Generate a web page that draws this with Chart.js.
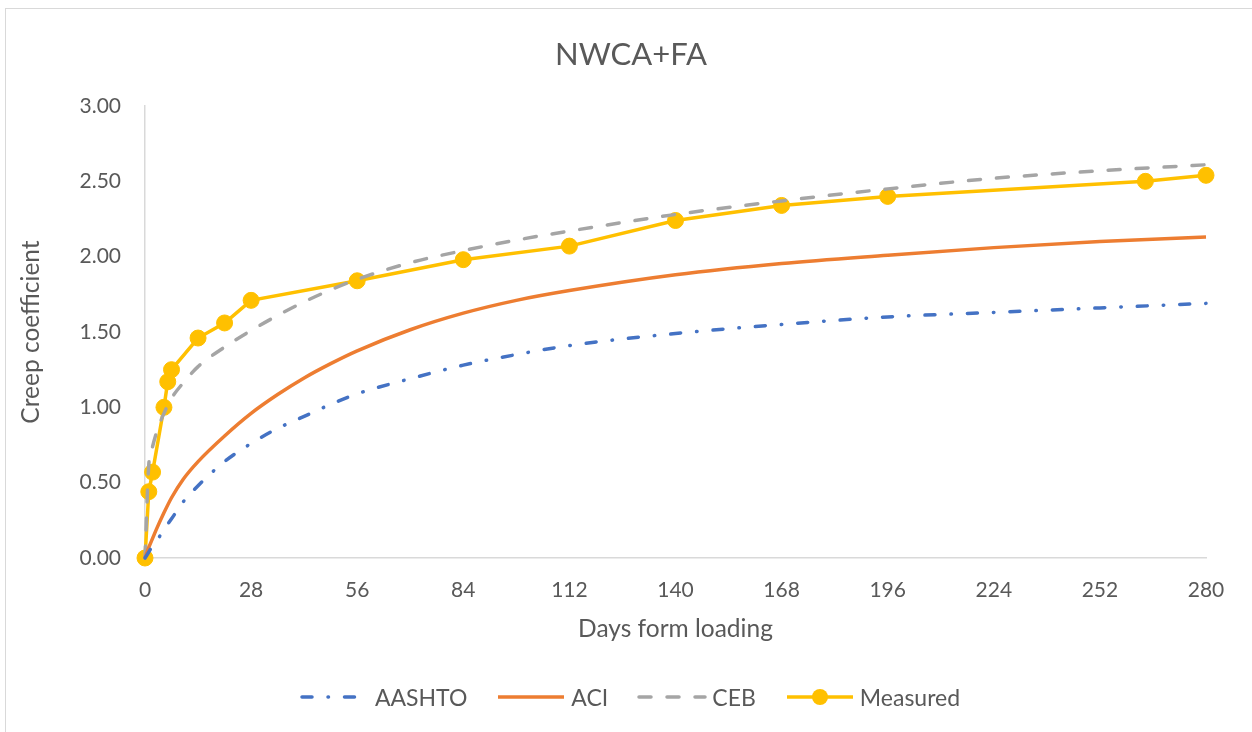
<!DOCTYPE html>
<html>
<head>
<meta charset="utf-8">
<script src="https://cdn.jsdelivr.net/npm/chart.js@4"></script>
<style>
  html, body { margin: 0; padding: 0; background: #fff; }
  #wrap { position: relative; width: 1252px; height: 732px; overflow: hidden; }
  #frame { position: absolute; left: 5px; top: 8px; width: 1300px; height: 800px;
           border-left: 1px solid #d9d9d9; border-top: 1px solid #d9d9d9; }
  #chart { position: absolute; left: 0; top: 0; }
  #title { position: absolute; left: 0; top: 35px; width: 1262px; text-align: center;
           font-family: Lato, sans-serif; font-size: 31px; line-height: 36px; color: #595959; }
  #legend { position: absolute; left: 0; top: 683px; width: 1260px; display: flex;
            justify-content: center; align-items: center; gap: 29px;
            font-family: Lato, sans-serif; font-size: 23px; color: #595959; }
  .item { display: flex; align-items: center; gap: 5px; }
  .item svg { display: block; }
</style>
</head>
<body>
<div id="wrap">
  <div id="frame"></div>
  <canvas id="chart" width="1252" height="732"></canvas>
  <div id="title"></div>
  <div id="legend"></div>
</div>
<script>
// 📈 Creep coefficient - NWCA+FA

const titleText = 'NWCA+FA';
const xTitle = 'Days form loading';
const yTitle = 'Creep coefficient';

// x ticks: 0..280 step 28, y ticks: 0..3 step 0.5
const xTicks = [0, 28, 56, 84, 112, 140, 168, 196, 224, 252, 280];
const yTicks = [0, 0.5, 1, 1.5, 2, 2.5, 3];

// model curves
const modelDays = [0, 1, 2, 3, 5, 7, 10, 14, 21, 28, 35, 42, 49, 56, 70, 84, 98, 112, 140, 168, 196, 224, 252, 280];
const aashtoVals = [0, 0.04, 0.08, 0.11, 0.19, 0.26, 0.37, 0.48, 0.64, 0.76, 0.86, 0.94, 1.02, 1.09, 1.19, 1.28, 1.35, 1.41, 1.49, 1.55, 1.60, 1.63, 1.66, 1.69];
const aciVals = [0, 0.07, 0.13, 0.19, 0.30, 0.40, 0.52, 0.64, 0.81, 0.96, 1.085, 1.195, 1.29, 1.375, 1.515, 1.625, 1.71, 1.775, 1.88, 1.955, 2.01, 2.06, 2.10, 2.13];
const cebVals = [0, 0.62, 0.74, 0.83, 0.96, 1.06, 1.16, 1.27, 1.40, 1.51, 1.61, 1.70, 1.78, 1.85, 1.96, 2.04, 2.11, 2.17, 2.28, 2.37, 2.45, 2.52, 2.57, 2.61];

// measured
const measuredDays = [0, 1, 2, 5, 6, 7, 14, 21, 28, 56, 84, 112, 140, 168, 196, 264, 280];
const measuredVals = [0, 0.44, 0.57, 1.00, 1.17, 1.25, 1.46, 1.56, 1.71, 1.84, 1.98, 2.07, 2.24, 2.34, 2.40, 2.50, 2.54];

const textColor = '#595959';
const fontFamily = 'Lato, sans-serif';

function toPoints(xs, ys) {
  return xs.map((x, i) => ({ x: x, y: ys[i] }));
}

const series = [
  { label: 'AASHTO', days: modelDays, vals: aashtoVals, color: '#4472C4', dash: [10, 16, 0.5, 16], cap: 'round', marker: false },
  { label: 'ACI', days: modelDays, vals: aciVals, color: '#ED7D31', dash: [], cap: 'butt', marker: false },
  { label: 'CEB', days: modelDays, vals: cebVals, color: '#A5A5A5', dash: [12, 16], cap: 'round', marker: false },
  { label: 'Measured', days: measuredDays, vals: measuredVals, color: '#FFC000', dash: [], cap: 'butt', marker: true }
];

const datasets = series.map(s => ({
  label: s.label,
  data: toPoints(s.days, s.vals),
  borderColor: s.color,
  backgroundColor: s.color,
  borderWidth: 3.5,
  borderDash: s.dash,
  borderCapStyle: s.cap,
  cubicInterpolationMode: s.marker ? 'default' : 'monotone',
  tension: 0,
  pointRadius: s.marker ? 8 : 0,
  pointHoverRadius: s.marker ? 8 : 0,
  pointBackgroundColor: s.color,
  pointBorderColor: s.color,
  pointBorderWidth: 1,
  showLine: true,
  clip: false
}));

document.getElementById('title').textContent = titleText;

new Chart(document.getElementById('chart').getContext('2d'), {
  type: 'scatter',
  data: { datasets: datasets },
  options: {
    responsive: false,
    animation: false,
    layout: { padding: { left: 16.3, right: 46, top: 106, bottom: 88.3 } },
    plugins: {
      legend: { display: false },
      tooltip: { enabled: false },
      title: { display: false }
    },
    scales: {
      x: {
        type: 'linear',
        min: xTicks[0],
        max: xTicks[xTicks.length - 1],
        afterBuildTicks: (scale) => { scale.ticks = xTicks.map(v => ({ value: v })); },
        afterFit: (scale) => { scale.height = 85.7; },
        ticks: { color: textColor, font: { family: fontFamily, size: 21 }, padding: 19.4, maxRotation: 0 },
        grid: { display: false, drawTicks: false },
        border: { display: true, color: '#d9d9d9', width: 1.5 },
        title: {
          display: true, text: xTitle, color: textColor,
          font: { family: fontFamily, size: 24.5 }, padding: 0
        }
      },
      y: {
        min: yTicks[0],
        max: yTicks[yTicks.length - 1],
        afterBuildTicks: (scale) => { scale.ticks = yTicks.map(v => ({ value: v })); },
        afterFit: (scale) => { scale.width = 128.7; },
        ticks: { color: textColor, font: { family: fontFamily, size: 21 }, padding: 24,
                 callback: (v) => Number(v).toFixed(2) },
        grid: { display: false, drawTicks: false },
        border: { display: true, color: '#d9d9d9', width: 1.5 },
        title: {
          display: true, text: yTitle, color: textColor,
          font: { family: fontFamily, size: 24.5 }, padding: 0
        }
      }
    }
  }
});

// legend (HTML, line samples as svg)
const legend = document.getElementById('legend');
series.forEach(s => {
  const item = document.createElement('div');
  item.className = 'item';
  const dashAttr = s.dash.length ? `stroke-dasharray="${s.dash.join(' ')}"` : '';
  const marker = s.marker ? `<circle cx="35" cy="9" r="8" fill="${s.color}"/>` : '';
  item.innerHTML = `
    <svg width="70" height="18" viewBox="0 0 70 18">
      <line x1="2" y1="9" x2="68" y2="9" stroke="${s.color}" stroke-width="3.5"
            stroke-linecap="${s.cap}" ${dashAttr}/>
      ${marker}
    </svg>
    <span>${s.label}</span>`;
  legend.appendChild(item);
});
</script>
</body>
</html>
